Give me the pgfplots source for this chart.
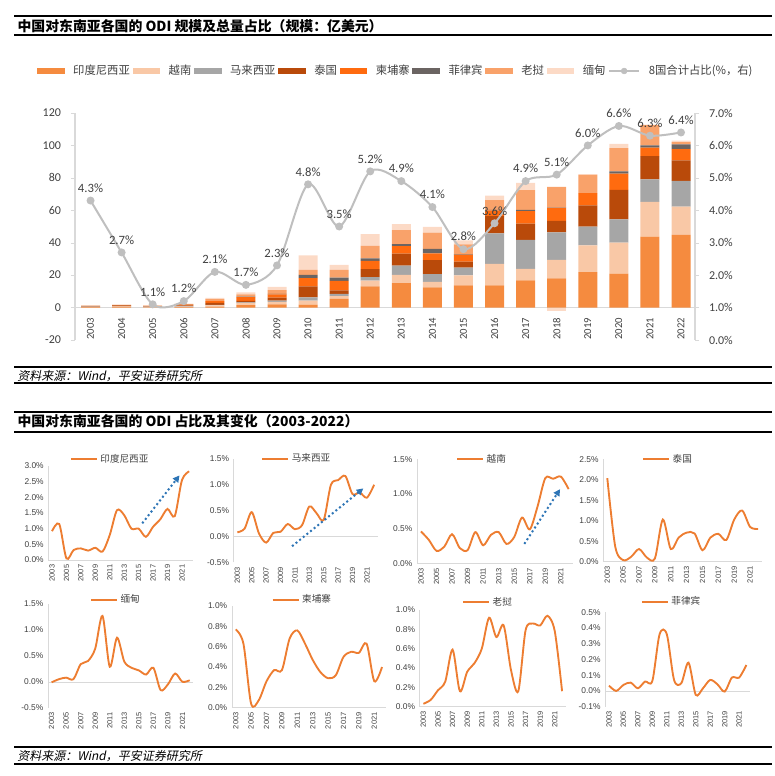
\documentclass[border=0pt]{standalone}
\usepackage{fontspec}
\usepackage{pgfplots}
\pgfplotsset{compat=1.18}
\usepackage{pgfplotstable}
\usetikzlibrary{arrows.meta}
\setmainfont{Carlito}
\newfontfamily\cjk{Noto Sans CJK SC}
\newfontfamily\cjkit[FakeSlant=0.2]{Noto Sans CJK SC}
\newfontfamily\lib{Liberation Sans}

\definecolor{cid}{HTML}{F58B3F}
\definecolor{cvn}{HTML}{F9C8A6}
\definecolor{cmy}{HTML}{A6A6A6}
\definecolor{cth}{HTML}{B94A0A}
\definecolor{ckh}{HTML}{FF6B0F}
\definecolor{cph}{HTML}{6B6462}
\definecolor{cla}{HTML}{F9A26A}
\definecolor{cmm}{HTML}{FCDAC6}
\definecolor{linegray}{HTML}{BFBFBF}
\definecolor{axisgray}{HTML}{D9D9D9}
\definecolor{lorange}{HTML}{ED7D31}
\definecolor{arrblue}{HTML}{2E75B6}
\definecolor{txt}{HTML}{404040}

\pgfplotstableread{
year id vn my th kh ph la mm share
2003 0.3 0.2 0.1 0.4 0.1 0.0 0.0 0.1 4.3
2004 0.4 0.3 0.1 0.5 0.2 0.05 0.15 0.1 2.7
2005 0.1 0.2 0.3 0.2 0.1 0.0 0.3 0.3 1.1
2006 0.3 0.3 0.3 0.4 0.3 0.1 0.4 0.3 1.2
2007 0.6 0.8 0.3 1.2 1.0 0.1 1.2 0.8 2.1
2008 1.5 1.2 0.5 1.0 2.2 0.3 1.5 1.2 1.7
2009 2.0 1.5 0.8 1.8 2.0 0.3 2.3 2.0 2.3
2010 1.8 2.5 2.0 6.7 5.1 2.0 3.1 9.0 4.8
2011 5.4 1.6 1.4 2.2 5.9 2.0 4.7 3.1 3.5
2012 13.1 3.5 2.2 4.9 5.1 1.6 7.6 7.3 5.2
2013 15.1 5.1 5.7 7.3 4.7 1.2 8.6 3.7 4.9
2014 12.4 3.5 4.7 8.6 4.3 2.7 10.0 3.5 4.1
2015 13.7 6.1 4.9 3.7 4.3 0.2 6.0 2.6 2.8
2016 13.7 13.3 18.8 10.6 3.6 0.3 6.0 2.8 3.6
2017 16.8 7.1 17.8 10.0 7.8 0.8 12.1 4.5 4.9
2018 18.0 11.4 17.0 7.0 8.1 0.2 12.7 0.0 5.1
2019 21.9 16.5 11.5 13.1 7.6 0.0 11.4 0.2 6.0
2020 21.0 19.1 14.3 18.2 10.0 1.4 14.3 2.7 6.6
2021 43.7 21.5 13.8 14.4 5.2 1.4 12.5 0.3 6.3
2022 44.8 17.4 15.9 12.7 6.9 2.9 1.4 0.9 6.4
}\odi

\pgfplotstableread{
year id my vn th mm kh la ph
2003 0.92 0.08 0.46 2.04 -0.01 0.77 0.03 0.034
2004 1.15 0.15 0.34 0.37 0.05 0.63 0.07 0.0
2005 0.05 0.47 0.18 0.04 0.08 0.04 0.17 0.038
2006 0.32 0.06 0.24 0.12 0.05 0.075 0.26 0.053
2007 0.37 -0.12 0.42 0.31 0.34 0.26 0.59 0.017
2008 0.30 0.07 0.22 0.10 0.40 0.37 0.16 0.06
2009 0.39 0.09 0.19 0.08 0.64 0.37 0.36 0.064
2010 0.27 0.24 0.45 1.03 1.27 0.68 0.45 0.36
2011 0.80 0.14 0.26 0.31 0.29 0.76 0.60 0.36
2012 1.59 0.22 0.41 0.59 0.85 0.63 0.92 0.07
2013 1.43 0.58 0.45 0.71 0.39 0.47 0.72 0.049
2014 1.00 0.45 0.28 0.69 0.27 0.35 0.84 0.18
2015 1.00 0.32 0.38 0.28 0.22 0.29 0.38 -0.025
2016 0.74 1.00 0.66 0.59 0.14 0.32 0.16 0.017
2017 1.06 1.09 0.49 0.68 0.27 0.50 0.79 0.07
2018 1.30 1.17 0.82 0.53 -0.16 0.55 0.86 0.042
2019 1.63 0.82 1.23 1.03 -0.05 0.54 0.84 -0.004
2020 1.40 0.85 1.22 1.25 0.16 0.63 0.94 0.085
2021 2.55 0.75 1.25 0.85 0.00 0.26 0.78 0.085
2022 2.83 1.00 1.07 0.80 0.03 0.40 0.16 0.165
}\shares

\pgfplotsset{
 smallp/.style={
  anchor=south west, scale only axis, clip=false,
  xmin=2002.5, xmax=2022.5,
  xtick={2003,2005,2007,2009,2011,2013,2015,2017,2019,2021},
  axis line style={draw=none},
  tick style={draw=none},
  x tick label style={rotate=90, anchor=east, font=\lib\fontsize{5.6}{6.5}\selectfont, text=txt},
  y tick label style={font=\lib\fontsize{6.3}{7}\selectfont, text=txt},
  /pgf/number format/1000 sep={},
  /pgf/number format/assume math mode=true,
  yticklabel={\pgfmathprintnumber[fixed,fixed zerofill,precision=1]{\tick}\%},
  legend style={draw=none, fill=none, anchor=center, font=\cjk\fontsize{7.2}{8}\selectfont, text=txt, inner sep=1pt},
  legend image code/.code={\draw[lorange, line width=1.4pt] (0pt,0pt) -- (19.5pt,0pt);},
 },
 sline/.style={lorange, line width=1.4pt, smooth, no markers},
}

\begin{document}
\begin{tikzpicture}
\useasboundingbox (0,0) rectangle (581.25pt,582pt);

% ---------- headers ----------
\draw[line width=1.6pt] (10.5pt,570pt) -- (579pt,570pt);
\node[anchor=west, inner sep=0pt, font=\cjk\bfseries\fontsize{10.4}{12}\selectfont] at (13pt,562.5pt) {中国对东南亚各国的 ODI 规模及总量占比（规模：亿美元）};
\draw[line width=1.6pt] (10.5pt,555.5pt) -- (579pt,555.5pt);

\draw[line width=1.3pt] (10.5pt,306.5pt) -- (579pt,306.5pt);
\node[anchor=west, inner sep=0pt, font=\cjkit\fontsize{9}{10}\selectfont] at (12.75pt,300pt) {资料来源：Wind，平安证券研究所};
\draw[line width=1.5pt] (10.5pt,294.5pt) -- (579pt,294.5pt);

\draw[line width=1.6pt] (10.5pt,273.2pt) -- (579pt,273.2pt);
\node[anchor=west, inner sep=0pt, font=\cjk\bfseries\fontsize{10.4}{12}\selectfont] at (13pt,266pt) {中国对东南亚各国的 ODI 占比及其变化（2003-2022）};
\draw[line width=1.6pt] (10.5pt,258.2pt) -- (579pt,258.2pt);

\draw[line width=1.3pt] (10.5pt,21.75pt) -- (579pt,21.75pt);
\node[anchor=west, inner sep=0pt, font=\cjkit\fontsize{9}{10}\selectfont] at (12.75pt,15pt) {资料来源：Wind，平安证券研究所};
\draw[line width=1.5pt] (10.5pt,9pt) -- (579pt,9pt);

% ---------- top chart: bars ----------
\begin{axis}[
  at={(56.25pt,327pt)}, anchor=south west, scale only axis,
  width=465pt, height=170.25pt,
  xmin=2002.5, xmax=2022.45, ymin=-20, ymax=120,
  ytick={-20,0,20,40,60,80,100,120},
  xtick={2003,2004,...,2022},
  ybar stacked, bar width=14.25pt,
  axis line style={draw=none},
  xtick style={draw=none},
  ytick style={draw=axisgray}, ytick pos=left, tick align=outside, major tick length=3pt,
  /pgf/number format/1000 sep={},
  /pgf/number format/assume math mode=true,
  x tick label style={yshift=23pt, rotate=90, anchor=east, font=\fontsize{8}{9}\selectfont, text=txt},
  y tick label style={font=\fontsize{9}{10}\selectfont, text=txt, xshift=-4pt},
  clip=false,
  legend columns=-1,
  legend style={at={(0.518,1.185)}, anchor=center, draw=none, fill=none,
    font=\cjk\fontsize{8.5}{10}\selectfont, text=txt,
    /tikz/every odd column/.append style={column sep=4.5pt}},
  legend image code/.code={\fill[#1] (0pt,-2.2pt) rectangle (20.6pt,2.2pt);},
]
\addplot[fill=cid, draw=none] table[x=year,y=id]{\odi};
\addlegendentry{印度尼西亚}
\addplot[fill=cvn, draw=none] table[x=year,y=vn]{\odi};
\addlegendentry{越南}
\addplot[fill=cmy, draw=none] table[x=year,y=my]{\odi};
\addlegendentry{马来西亚}
\addplot[fill=cth, draw=none] table[x=year,y=th]{\odi};
\addlegendentry{泰国}
\addplot[fill=ckh, draw=none] table[x=year,y=kh]{\odi};
\addlegendentry{柬埔寨}
\addplot[fill=cph, draw=none] table[x=year,y=ph]{\odi};
\addlegendentry{菲律宾}
\addplot[fill=cla, draw=none] table[x=year,y=la]{\odi};
\addlegendentry{老挝}
\addplot[fill=cmm, draw=none] table[x=year,y=mm]{\odi};
\addlegendentry{缅甸}
\addlegendimage{legend image code/.code={\draw[linegray,line width=1.5pt] (0pt,0pt) -- (22.5pt,0pt); \fill[linegray] (11.25pt,0pt) circle (2.2pt);}}
\addlegendentry{8国合计占比(\%，右)}
\draw[axisgray, line width=0.8pt] (axis cs:2002.5,0) -- (axis cs:2022.45,0);
\draw[axisgray, line width=0.8pt] (rel axis cs:0,0) -- (rel axis cs:0,1);
\end{axis}

% negative piece (Myanmar 2018)
\begin{axis}[
  at={(56.25pt,327pt)}, anchor=south west, scale only axis,
  width=465pt, height=170.25pt,
  xmin=2002.5, xmax=2022.45, ymin=-20, ymax=120,
  hide axis, ybar, bar width=14.25pt,
]
\addplot[fill=cmm, draw=none] coordinates {(2018,-2.3)};
\end{axis}

% ---------- top chart: share line ----------
\begin{axis}[
  at={(56.25pt,327pt)}, anchor=south west, scale only axis,
  width=465pt, height=170.25pt,
  xmin=2002.5, xmax=2022.45, ymin=0, ymax=7,
  ytick={0,1,2,3,4,5,6,7}, xtick=\empty,
  axis line style={draw=none},
  ytick pos=right, yticklabel pos=right,
  ytick style={draw=axisgray}, tick align=outside, major tick length=3pt,
  /pgf/number format/assume math mode=true,
  yticklabel={\pgfmathprintnumber[fixed,fixed zerofill,precision=1]{\tick}\%},
  y tick label style={font=\fontsize{9}{10}\selectfont, text=txt, xshift=4pt},
  clip=false,
]
\draw[axisgray, line width=0.8pt] (rel axis cs:1,0) -- (rel axis cs:1,1);
\addplot[linegray, line width=1.5pt, smooth, mark=*, mark size=2.2pt,
  mark options={fill=linegray, draw=linegray},
  nodes near coords={\pgfmathprintnumber[fixed,fixed zerofill,precision=1]{\pgfplotspointmeta}\%},
  every node near coord/.append style={font=\fontsize{9.5}{11}\selectfont, text=txt, anchor=south, yshift=2pt}]
  table[x=year,y=share]{\odi};
\end{axis}

% ---------- small multiples, row 1 ----------
\begin{axis}[smallp, at={(36.3pt,162pt)}, width=108.3pt, height=70.5pt,
  ymin=0, ymax=3, ytick={0,0.5,1,1.5,2,2.5,3}, legend style={at={(0.43,1.074)}}]
\draw[axisgray] (rel axis cs:0,0) -- (rel axis cs:0,1);
\draw[axisgray] (axis cs:2002.5,0) -- (axis cs:2022.5,0);
\addplot[sline] table[x=year,y=id]{\shares};
\addlegendentry{印度尼西亚}
\draw[arrblue, dotted, line width=1.5pt, -{Triangle[length=5pt,width=5pt]}] (axis cs:2015.5,1.17) -- (axis cs:2020.66,2.7);
\end{axis}

\begin{axis}[smallp, at={(175.3pt,160.3pt)}, width=108pt, height=77.5pt,
  ymin=-0.5, ymax=1.5, ytick={-0.5,0,0.5,1,1.5}, legend style={at={(0.44,1.0)}}]
\draw[axisgray] (rel axis cs:0,0) -- (rel axis cs:0,1);
\draw[axisgray] (axis cs:2002.5,0) -- (axis cs:2022.5,0);
\addplot[sline] table[x=year,y=my]{\shares};
\addlegendentry{马来西亚}
\draw[arrblue, dotted, line width=1.5pt, -{Triangle[length=5pt,width=5pt]}] (axis cs:2010.6,-0.19) -- (axis cs:2020.5,0.93);
\end{axis}

\begin{axis}[smallp, at={(312.8pt,159.5pt)}, width=116.6pt, height=78pt,
  ymin=0, ymax=1.5, ytick={0,0.5,1,1.5}, legend style={at={(0.42,1.0)}}]
\draw[axisgray] (rel axis cs:0,0) -- (rel axis cs:0,1);
\draw[axisgray] (axis cs:2002.5,0) -- (axis cs:2022.5,0);
\addplot[sline] table[x=year,y=vn]{\shares};
\addlegendentry{越南}
\draw[arrblue, dotted, line width=1.5pt, -{Triangle[length=5pt,width=5pt]}] (axis cs:2016.3,0.28) -- (axis cs:2020.9,1.07);
\end{axis}

\begin{axis}[smallp, at={(452.5pt,160.7pt)}, width=119pt, height=76.8pt,
  ymin=0, ymax=2.5, ytick={0,0.5,1,1.5,2,2.5}, legend style={at={(0.41,1.0)}}]
\draw[axisgray] (rel axis cs:0,0) -- (rel axis cs:0,1);
\draw[axisgray] (axis cs:2002.5,0) -- (axis cs:2022.5,0);
\addplot[sline] table[x=year,y=th]{\shares};
\addlegendentry{泰国}
\end{axis}

% ---------- small multiples, row 2 ----------
\begin{axis}[smallp, at={(36pt,51.2pt)}, width=109pt, height=77.8pt,
  ymin=-0.5, ymax=1.5, ytick={-0.5,0,0.5,1,1.5}, legend style={at={(0.47,1.04)}}]
\draw[axisgray] (rel axis cs:0,0) -- (rel axis cs:0,1);
\draw[axisgray] (axis cs:2002.5,0) -- (axis cs:2022.5,0);
\addplot[sline] table[x=year,y=mm]{\shares};
\addlegendentry{缅甸}
\end{axis}

\begin{axis}[smallp, at={(173.9pt,51.2pt)}, width=115.5pt, height=76.3pt,
  ymin=0, ymax=1, ytick={0,0.2,0.4,0.6,0.8,1}, legend style={at={(0.46,1.06)}}]
\draw[axisgray] (rel axis cs:0,0) -- (rel axis cs:0,1);
\draw[axisgray] (axis cs:2002.5,0) -- (axis cs:2022.5,0);
\addplot[sline] table[x=year,y=kh]{\shares};
\addlegendentry{柬埔寨}
\end{axis}

\begin{axis}[smallp, at={(314.8pt,52pt)}, width=109.5pt, height=72.5pt,
  ymin=0, ymax=1, ytick={0,0.2,0.4,0.6,0.8,1}, legend style={at={(0.47,1.08)}}]
\draw[axisgray] (rel axis cs:0,0) -- (rel axis cs:0,1);
\draw[axisgray] (axis cs:2002.5,0) -- (axis cs:2022.5,0);
\addplot[sline] table[x=year,y=la]{\shares};
\addlegendentry{老挝}
\end{axis}

\begin{axis}[smallp, at={(454pt,52pt)}, width=108.5pt, height=70.8pt,
  ymin=-0.1, ymax=0.5, ytick={-0.1,0,0.1,0.2,0.3,0.4,0.5}, legend style={at={(0.46,1.11)}}]
\draw[axisgray] (rel axis cs:0,0) -- (rel axis cs:0,1);
\draw[axisgray] (axis cs:2002.5,0) -- (axis cs:2022.5,0);
\addplot[sline] table[x=year,y=ph]{\shares};
\addlegendentry{菲律宾}
\end{axis}

\end{tikzpicture}
\end{document}
